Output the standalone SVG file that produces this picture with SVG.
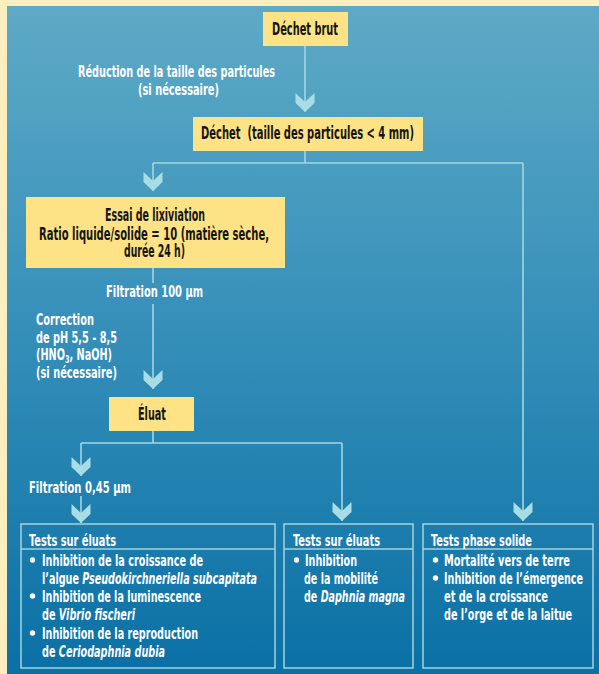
<svg xmlns="http://www.w3.org/2000/svg" width="599" height="674" viewBox="0 0 599 674">
  <defs>
    <linearGradient id="bg" x1="0" y1="0" x2="0" y2="1">
      <stop offset="0" stop-color="#5eaac6"/>
      <stop offset="0.45" stop-color="#3891ba"/>
      <stop offset="1" stop-color="#0a70a5"/>
    </linearGradient>
    <marker id="chev" markerUnits="userSpaceOnUse" markerWidth="20" markerHeight="20" refX="0" refY="0" orient="auto" overflow="visible">
      <path d="M-19,-9.5 L-10,0 L-19,9.5 L-9,9.5 L0,0 L-9,-9.5 Z" fill="#a9dde5"/>
    </marker>
    <style>
      .t { font-family: "Liberation Sans Narrow", "DejaVu Sans Condensed", "Liberation Sans", Arial, sans-serif; font-weight: bold; font-stretch: condensed; }
      .dark { fill: #141414; font-size: 17.5px; }
      .lbl { fill: #ffffff; font-size: 16.5px; }
      .body { fill: #ffffff; font-size: 16px; }
      .ybox { fill: #fde386; }
      .tbox { fill: none; stroke: #a3d3de; stroke-width: 1.5; }
      .wire { fill: none; stroke: #a3d6e0; stroke-width: 1.6; }
      .arr { marker-end: url(#chev); }
      .it { font-style: italic; }
    </style>
  </defs>

  <!-- page frame and background -->
  <rect x="0" y="0" width="599" height="674" fill="#fdeec0"/>
  <rect x="7" y="6" width="592" height="668" fill="url(#bg)"/>

  <!-- connectors -->
  <g id="connectors">
    <path class="wire arr" d="M305,46 V112"/>
    <path class="wire" d="M305,151 V163 M153,163 H523"/>
    <path class="wire arr" d="M153,163 V191"/>
    <path class="wire" d="M153,268 V283"/>
    <path class="wire arr" d="M153,304 V389"/>
    <path class="wire" d="M153,431 V443 M81,443 H342"/>
    <path class="wire arr" d="M81,443 V476"/>
    <path class="wire arr" d="M81,496 V523"/>
    <path class="wire arr" d="M342,443 V521"/>
    <path class="wire arr" d="M523,163 V521"/>
  </g>

  <!-- edge labels -->
  <g id="label-reduction" class="t lbl">
    <text x="78" y="77" textLength="197" lengthAdjust="spacingAndGlyphs">Réduction de la taille des particules</text>
    <text x="138" y="95" textLength="81" lengthAdjust="spacingAndGlyphs">(si nécessaire)</text>
  </g>
  <g id="label-filtration100" class="t lbl">
    <text x="106" y="297" textLength="97" lengthAdjust="spacingAndGlyphs">Filtration 100 µm</text>
  </g>
  <g id="label-correction" class="t lbl">
    <text x="36" y="325" textLength="58" lengthAdjust="spacingAndGlyphs">Correction</text>
    <text x="36" y="343" textLength="81" lengthAdjust="spacingAndGlyphs">de pH 5,5 - 8,5</text>
    <text x="36" y="360" textLength="76" lengthAdjust="spacingAndGlyphs">(HNO<tspan font-size="11" dy="3">3</tspan><tspan dy="-3">, NaOH)</tspan></text>
    <text x="36" y="378" textLength="81" lengthAdjust="spacingAndGlyphs">(si nécessaire)</text>
  </g>
  <g id="label-filtration045" class="t lbl">
    <text x="29" y="493" textLength="102" lengthAdjust="spacingAndGlyphs">Filtration 0,45 µm</text>
  </g>

  <!-- process nodes -->
  <g id="node-dechet-brut">
    <rect class="ybox" x="263" y="12" width="85" height="34"/>
    <text class="t dark" x="272" y="35" textLength="66" lengthAdjust="spacingAndGlyphs">Déchet brut</text>
  </g>
  <g id="node-dechet">
    <rect class="ybox" x="193" y="117" width="230" height="34"/>
    <text class="t dark" x="201" y="139" textLength="213" lengthAdjust="spacingAndGlyphs" xml:space="preserve">Déchet  (taille des particules &lt; 4 mm)</text>
  </g>
  <g id="node-lixiviation">
    <rect class="ybox" x="26" y="197" width="259" height="71"/>
    <text class="t dark" x="105" y="221" textLength="100" lengthAdjust="spacingAndGlyphs">Essai de lixiviation</text>
    <text class="t dark" x="39" y="240" textLength="230" lengthAdjust="spacingAndGlyphs">Ratio liquide/solide = 10 (matière sèche,</text>
    <text class="t dark" x="124" y="257" textLength="61" lengthAdjust="spacingAndGlyphs">durée 24 h)</text>
  </g>
  <g id="node-eluat">
    <rect class="ybox" x="109" y="397" width="85" height="34"/>
    <text class="t dark" x="138" y="420" textLength="28" lengthAdjust="spacingAndGlyphs">Éluat</text>
  </g>

  <!-- test boxes -->
  <g id="node-tests-eluats-1" class="t body">
    <rect class="tbox" x="21" y="524" width="254" height="144"/>
    <line class="tbox" x1="21" y1="549" x2="275" y2="549"/>
    <text x="29" y="546" textLength="87" lengthAdjust="spacingAndGlyphs">Tests sur éluats</text>
    <circle cx="32.5" cy="560" r="2.7" fill="#ffffff"/>
    <text x="42" y="566" textLength="161" lengthAdjust="spacingAndGlyphs">Inhibition de la croissance de</text>
    <text x="42" y="584" textLength="215" lengthAdjust="spacingAndGlyphs">l’algue <tspan class="it">Pseudokirchneriella subcapitata</tspan></text>
    <circle cx="32.5" cy="596" r="2.7" fill="#ffffff"/>
    <text x="42" y="602" textLength="159" lengthAdjust="spacingAndGlyphs">Inhibition de la luminescence</text>
    <text x="42" y="620" textLength="93" lengthAdjust="spacingAndGlyphs">de <tspan class="it">Vibrio fischeri</tspan></text>
    <circle cx="32.5" cy="633" r="2.7" fill="#ffffff"/>
    <text x="42" y="639" textLength="156" lengthAdjust="spacingAndGlyphs">Inhibition de la reproduction</text>
    <text x="42" y="657" textLength="123" lengthAdjust="spacingAndGlyphs">de <tspan class="it">Ceriodaphnia dubia</tspan></text>
  </g>
  <g id="node-tests-eluats-2" class="t body">
    <rect class="tbox" x="284" y="524" width="129" height="144"/>
    <line class="tbox" x1="284" y1="549" x2="413" y2="549"/>
    <text x="293" y="546" textLength="87" lengthAdjust="spacingAndGlyphs">Tests sur éluats</text>
    <circle cx="296.5" cy="560" r="2.7" fill="#ffffff"/>
    <text x="305" y="566" textLength="52" lengthAdjust="spacingAndGlyphs">Inhibition</text>
    <text x="304" y="584" textLength="74" lengthAdjust="spacingAndGlyphs">de la mobilité</text>
    <text x="304" y="602" textLength="101" lengthAdjust="spacingAndGlyphs">de <tspan class="it">Daphnia magna</tspan></text>
  </g>
  <g id="node-tests-solide" class="t body">
    <rect class="tbox" x="423" y="524" width="170" height="144"/>
    <line class="tbox" x1="423" y1="549" x2="593" y2="549"/>
    <text x="431" y="546" textLength="101" lengthAdjust="spacingAndGlyphs">Tests phase solide</text>
    <circle cx="435.5" cy="560" r="2.7" fill="#ffffff"/>
    <text x="444" y="566" textLength="126" lengthAdjust="spacingAndGlyphs">Mortalité vers de terre</text>
    <circle cx="435.5" cy="578" r="2.7" fill="#ffffff"/>
    <text x="444" y="584" textLength="139" lengthAdjust="spacingAndGlyphs">Inhibition de l’émergence</text>
    <text x="444" y="602" textLength="104" lengthAdjust="spacingAndGlyphs">et de la croissance</text>
    <text x="444" y="620" textLength="128" lengthAdjust="spacingAndGlyphs">de l’orge et de la laitue</text>
  </g>
</svg>
